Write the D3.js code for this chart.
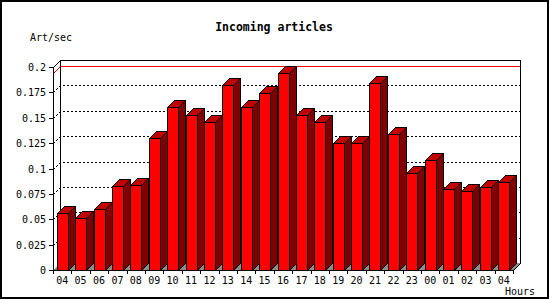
<!DOCTYPE html>
<html>
<head>
<meta charset="utf-8">
<script src="https://cdn.jsdelivr.net/npm/d3@7/dist/d3.min.js"></script>
<style>
  body { margin: 0; background: #fff; }
  text { font-family: "DejaVu Sans Mono", monospace; font-size: 10px; fill: #000; }
  .title { font-weight: bold; font-size: 11.5px; }
</style>
</head>
<body>
<div id="chart"></div>
<script>
// hourly incoming article rate (articles per second)
var hours = ["04","05","06","07","08","09","10","11","12","13","14","15","16",
             "17","18","19","20","21","22","23","00","01","02","03","04"];
var rates = [0.0558, 0.0509, 0.0597, 0.0824, 0.0834, 0.1296, 0.1601, 0.1532,
             0.1463, 0.1818, 0.1601, 0.1739, 0.1938, 0.1532, 0.1463, 0.1247,
             0.1247, 0.1847, 0.1335, 0.0951, 0.1083, 0.0794, 0.0774, 0.0814, 0.0863];
var yTicks = [0, 0.025, 0.05, 0.075, 0.1, 0.125, 0.15, 0.175, 0.2];
var yTickLabels = ["0", "0.025", "0.05", "0.075", "0.1", "0.125", "0.15", "0.175", "0.2"];

var width = 550, height = 300,
    depth = 7,
    plotLeft = 53, plotRight = 513, plotBottom = 270, plotTop = 67;

var svg = d3.select("#chart")
    .append("svg")
      .attr("width", width)
      .attr("height", height)
      .attr("shape-rendering", "crispEdges");

var x = d3.scaleBand()
    .domain(d3.range(hours.length))
    .range([plotLeft, plotRight]);

var y = d3.scaleLinear()
    .domain([0, 0.2])
    .range([plotBottom, plotTop]);

function px(v) { return Math.round(v) + 0.5; }

var barW = Math.round(x.bandwidth() * 0.6),
    pad = (x.bandwidth() - barW) / 2,
    yMax = y(d3.max(rates));

// outer frame
svg.append("rect")
    .attr("x", 1).attr("y", 1)
    .attr("width", width - 3).attr("height", height - 3)
    .attr("fill", "#fff")
    .attr("stroke", "#000")
    .attr("stroke-width", 2);

// floor
svg.append("path")
    .attr("d", "M" + plotLeft + "," + (plotBottom + 0.5) + "L" + (plotLeft + depth) + "," + (plotBottom - depth) +
               "L" + (plotRight + depth) + "," + (plotBottom - depth) + "L" + plotRight + "," + (plotBottom + 0.5) + "Z")
    .attr("fill", "#8c8c8c");

// grid lines on the back wall
yTicks.slice(1, -1).forEach(function(t) {
  var yy = px(y(t));
  svg.append("path")
      .attr("d", "M" + px(plotLeft) + "," + yy + "L" + px(plotLeft + depth) + "," + (yy - depth) +
                 "L" + px(plotRight + depth) + "," + (yy - depth))
      .attr("fill", "none")
      .attr("stroke", "#000")
      .attr("stroke-dasharray", "2,2");
});

// max line
svg.append("path")
    .attr("d", "M" + px(plotLeft) + "," + px(yMax) + "L" + px(plotLeft + depth) + "," + (px(yMax) - depth) +
               "L" + px(plotRight + depth) + "," + (px(yMax) - depth))
    .attr("fill", "none")
    .attr("stroke", "#f00");

// back wall frame
svg.append("path")
    .attr("d", "M" + px(plotLeft + depth) + "," + (px(plotBottom) - depth) +
               "L" + px(plotLeft + depth) + "," + (px(y(0.2)) - depth) +
               "L" + px(plotRight + depth) + "," + (px(y(0.2)) - depth) +
               "L" + px(plotRight + depth) + "," + (px(plotBottom) - depth))
    .attr("fill", "none")
    .attr("stroke", "#000");

// front axes and corner diagonals
svg.append("path")
    .attr("d", "M" + px(plotLeft + depth) + "," + (px(y(0.2)) - depth) +
               "L" + px(plotLeft) + "," + px(y(0.2)) +
               "L" + px(plotLeft) + "," + px(plotBottom) +
               "L" + px(plotRight) + "," + px(plotBottom) +
               "L" + px(plotRight + depth) + "," + (px(plotBottom) - depth))
    .attr("fill", "none")
    .attr("stroke", "#000");

// y ticks
var yAxis = svg.append("g");
yTicks.forEach(function(t, i) {
  var yy = px(y(t));
  yAxis.append("line")
      .attr("x1", plotLeft - 4).attr("x2", plotLeft)
      .attr("y1", yy).attr("y2", yy)
      .attr("stroke", "#000");
  yAxis.append("text")
      .attr("x", plotLeft - 7)
      .attr("y", yy)
      .attr("dy", "0.35em")
      .attr("text-anchor", "end")
      .text(yTickLabels[i]);
});

// x ticks
d3.range(hours.length + 1).forEach(function(i) {
  var xx = px(plotLeft + i * x.step());
  svg.append("line")
      .attr("x1", xx).attr("x2", xx)
      .attr("y1", plotBottom).attr("y2", plotBottom + 4)
      .attr("stroke", "#000");
});

svg.append("g").selectAll("text")
    .data(hours)
    .enter().append("text")
      .attr("x", function(d, i) { return x(i) + x.bandwidth() / 2; })
      .attr("y", 284)
      .attr("text-anchor", "middle")
      .text(function(d) { return d; });

// bars
var bars = svg.append("g").selectAll("g")
    .data(rates)
    .enter().append("g");

bars.each(function(d, i) {
  var g = d3.select(this),
      x0 = px(x(i) + pad),
      x1 = x0 + barW,
      yt = px(y(d)),
      yb = px(plotBottom);

  g.append("path")
      .attr("d", "M" + x1 + "," + yt + "L" + (x1 + depth) + "," + (yt - depth) +
                 "L" + (x1 + depth) + "," + (yb - depth) + "L" + x1 + "," + yb + "Z")
      .attr("fill", "#800000")
      .attr("stroke", "#000");

  g.append("path")
      .attr("d", "M" + x0 + "," + yt + "L" + (x0 + depth) + "," + (yt - depth) +
                 "L" + (x1 + depth) + "," + (yt - depth) + "L" + x1 + "," + yt + "Z")
      .attr("fill", "#c00000")
      .attr("stroke", "#000");

  g.append("rect")
      .attr("x", x0).attr("y", yt)
      .attr("width", barW).attr("height", yb - yt)
      .attr("fill", "#f00")
      .attr("stroke", "#000");
});

// titles
svg.append("text")
    .attr("class", "title")
    .attr("x", 274)
    .attr("y", 31)
    .attr("text-anchor", "middle")
    .text("Incoming articles");

svg.append("text")
    .attr("x", 30)
    .attr("y", 41)
    .text("Art/sec");

svg.append("text")
    .attr("x", 535)
    .attr("y", 295)
    .attr("text-anchor", "end")
    .text("Hours");
</script>
</body>
</html>
